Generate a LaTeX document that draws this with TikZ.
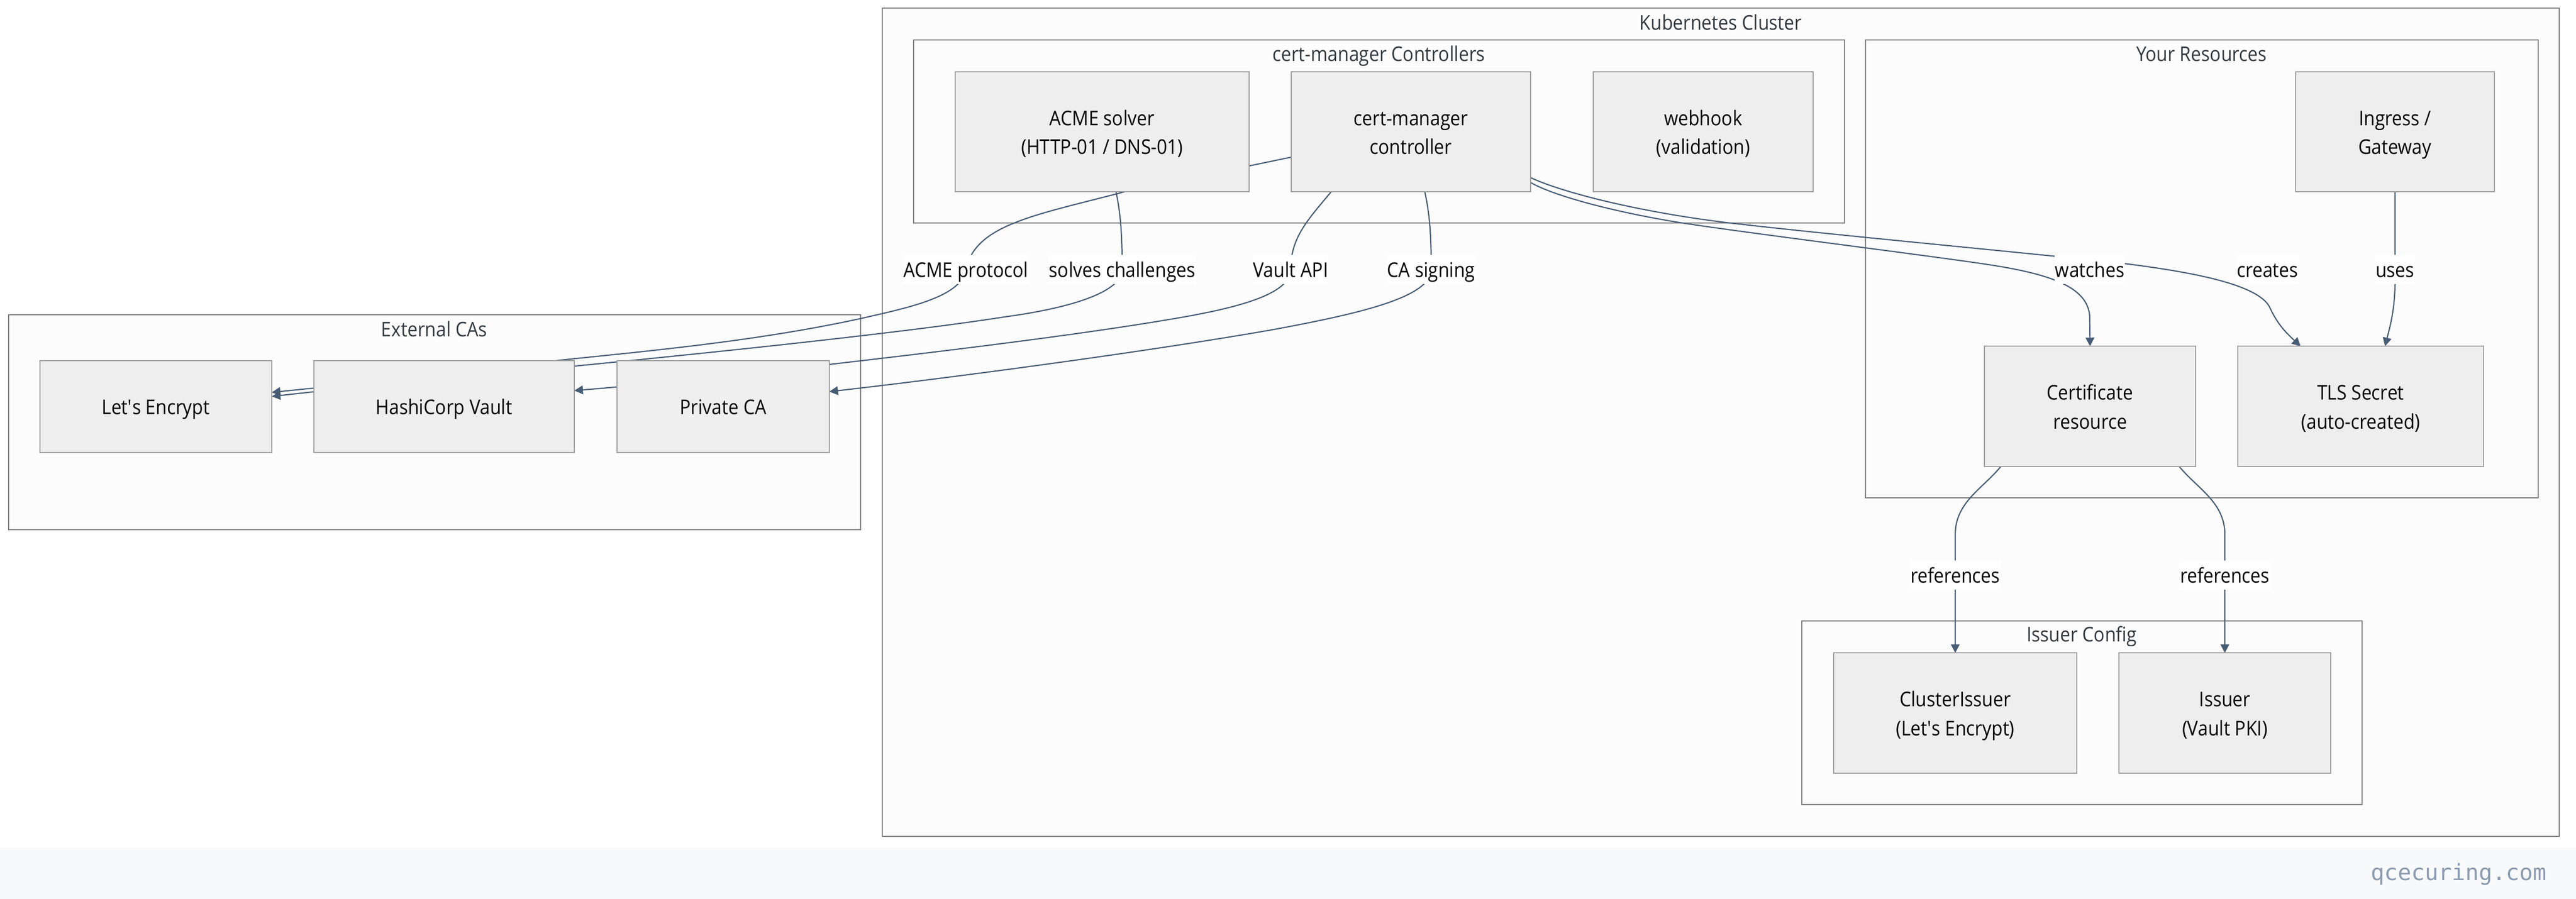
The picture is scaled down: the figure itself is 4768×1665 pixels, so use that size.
\documentclass[tikz,border=0pt]{standalone}
\usepackage{fontspec}
\setmainfont{Open Sans}[FakeStretch=0.895]
\newfontfamily\footfont{DejaVu Sans Mono}
\usepackage{xcolor}
\usetikzlibrary{shapes,arrows.meta}
\definecolor{edgecol}{HTML}{475C75}
\definecolor{boxfill}{HTML}{EEEEEE}
\definecolor{boxline}{HTML}{9E9E9E}
\definecolor{grpfill}{HTML}{FCFCFC}
\definecolor{grpline}{HTML}{808080}
\definecolor{titlecol}{HTML}{333A40}
\definecolor{footfill}{HTML}{F8F9FB}
\definecolor{footcol}{HTML}{8B9CB1}
\newcommand{\vstrut}{\rule[-3pt]{0pt}{13.4pt}}
\newcommand{\tallstrut}{\rule{0pt}{10.6pt}}
\pgfdeclarelayer{back}
\pgfdeclarelayer{edges}
\pgfsetlayers{back,edges,main}

\begin{document}
\begin{tikzpicture}[x=0.25pt,y=-0.25pt]
\tikzset{
  strutted/.style={execute at begin node=\vstrut,execute at end node=\vstrut},
  basebox/.style={draw=boxline,fill=boxfill,line width=0.5pt,outer sep=0pt,align=center,
    inner ysep=0pt,font=\fontsize{9.4pt}{13.4pt}\selectfont},
  box/.style={basebox,minimum height=55.6pt,execute at end node=\vstrut},
  cabox/.style={basebox,minimum height=42.5pt,strutted},
  grp/.style={draw=grpline,fill=grpfill,line width=0.4pt,outer sep=0pt},
  grptitle/.style={text=titlecol,inner sep=0pt,font=\fontsize{9.4pt}{13.4pt}\selectfont,strutted},
  lab/.style={fill=white,inner xsep=0.2pt,inner ysep=0pt,
    font=\fontsize{9.4pt}{13.4pt}\selectfont,strutted},
  con/.style={draw=edgecol,line width=0.55pt},
  arr/.style={con,-{Triangle[length=4pt,width=4pt]}}
}
\useasboundingbox (0,0) rectangle (4768,1665);

\begin{pgfonlayer}{back}
\node[fill=footfill,minimum width=1192pt,minimum height=23.75pt,outer sep=0pt,inner sep=0pt] (footer) at (2384,1617.5) {};
% groups
\node[grp,minimum width=776pt,minimum height=383.5pt] (k8s) at (3185,782) {};
\node[grp,minimum width=430.75pt,minimum height=84.75pt] (ctrlgrp) at (2552.5,243.5) {};
\node[grp,minimum width=311.25pt,minimum height=212pt] (resgrp) at (4075.5,498) {};
\node[grp,minimum width=259.25pt,minimum height=85pt] (issgrp) at (3853.5,1320) {};
\node[grp,minimum width=394.25pt,minimum height=99.5pt] (cagrp) at (804.5,782) {};
\end{pgfonlayer}

\node[grptitle] (k8stitle) at (3185,41) {Kubernetes Cluster};
\node[grptitle] (ctrltitle) at (2552,98.5) {cert-manager Controllers};
\node[grptitle] (restitle) at (4075,98.5) {Your Resources};
\node[grptitle] (isstitle) at (3853,1173.5) {Issuer Config};
\node[grptitle] (catitle) at (804,609) {External CAs};

% controllers
\node[box,minimum width=136pt] (acme) at (2040,244) {\tallstrut ACME solver\\(HTTP-01 / DNS-01)};
\node[box,minimum width=110.75pt] (ctrl) at (2611.5,244) {\tallstrut cert-manager\\controller};
\node[box,minimum width=101.75pt] (hook) at (3152.5,244) {\tallstrut webhook\\(validation)};
% resources
\node[box,minimum width=92pt] (ingress) at (4433,244) {\tallstrut Ingress /\\Gateway};
\node[box,minimum width=97.75pt] (cert) at (3868.5,752.5) {\tallstrut Certificate\\resource};
\node[box,minimum width=113.75pt] (tls) at (4369.5,752.5) {\tallstrut TLS Secret\\(auto-created)};
% issuers
\node[box,minimum width=112.5pt] (ci) at (3619,1320.5) {\tallstrut ClusterIssuer\\(Let\textquotesingle s Encrypt)};
\node[box,minimum width=98pt] (iss) at (4118,1320.5) {\tallstrut Issuer\\(Vault PKI)};
% external
\node[cabox,minimum width=107.25pt] (le) at (288.5,753) {Let\textquotesingle s Encrypt};
\node[cabox,minimum width=120.5pt] (vault) at (822,753) {HashiCorp Vault};
\node[cabox,minimum width=98.25pt] (pca) at (1338.5,753) {Private CA};

% edge labels
\node[lab] (lbacme) at (1788,499) {ACME protocol};
\node[lab] (lbsolve) at (2077,499) {solves challenges};
\node[lab] (lbvault) at (2389,499) {Vault API};
\node[lab] (lbca) at (2649,499) {CA signing};
\node[lab] (lbwatch) at (3868,499) {watches};
\node[lab] (lbcreate) at (4197,499) {creates};
\node[lab] (lbuses) at (4433,499) {uses};
\node[lab] (lbrefa) at (3619,1065) {references};
\node[lab] (lbrefb) at (4118,1065) {references};

\node[text=footcol,inner sep=0pt,font=\footfont\fontsize{10.4pt}{12pt}\selectfont] (mark) at (4551,1619) {qcecuring.com};

\begin{pgfonlayer}{edges}
\draw[arr] (ctrl.192) -- (2082,355) .. controls (1920,398) and (1805,415) .. (1788,499)
  .. controls (1780,550) and (1680,570) .. (1593,590)
  .. controls (1400,632) and (1200,650) .. (1037,667)
  .. controls (850,690) and (650,712) .. (le.7);
\draw[arr] (acme.283) .. controls (2075,400) and (2077,440) .. (2077,499)
  .. controls (2077,540) and (1985,570) .. (1859,587)
  .. controls (1700,612) and (1400,645) .. (1064,678)
  .. controls (900,695) and (700,712) .. (le.5);
\draw[arr] (ctrl.217) .. controls (2420,408) and (2389,440) .. (2389,499)
  .. controls (2389,545) and (2290,570) .. (2180,589)
  .. controls (2000,620) and (1750,650) .. (1535,675)
  .. controls (1400,690) and (1250,708) .. (vault.7);
\draw[arr] (ctrl.283) .. controls (2647,400) and (2649,440) .. (2649,499)
  .. controls (2649,550) and (2520,580) .. (2359,610)
  .. controls (2150,647) and (1800,695) .. (pca.8);
\draw[arr] (ctrl.-23) .. controls (2880,365) and (3000,395) .. (3114,413)
  .. controls (3230,431) and (3560,472) .. (3680,490)
  .. controls (3790,507) and (3868,530) .. (3868,590) -- (cert.north);
\draw[arr] (ctrl.-21) .. controls (2900,360) and (3050,395) .. (3202,413)
  .. controls (3400,436) and (3750,468) .. (3931,488)
  .. controls (4050,503) and (4175,525) .. (4200,567)
  .. controls (4215,600) and (4230,615) .. (tls.135);
\draw[arr] (ingress.south) -- (4433,520) .. controls (4433,570) and (4425,600) .. (tls.68);
\draw[arr] (cert.214) .. controls (3670,905) and (3619,930) .. (3619,990) -- (ci.north);
\draw[arr] (cert.326) .. controls (4067,905) and (4118,930) .. (4118,990) -- (iss.north);
\end{pgfonlayer}
\end{tikzpicture}
\end{document}
